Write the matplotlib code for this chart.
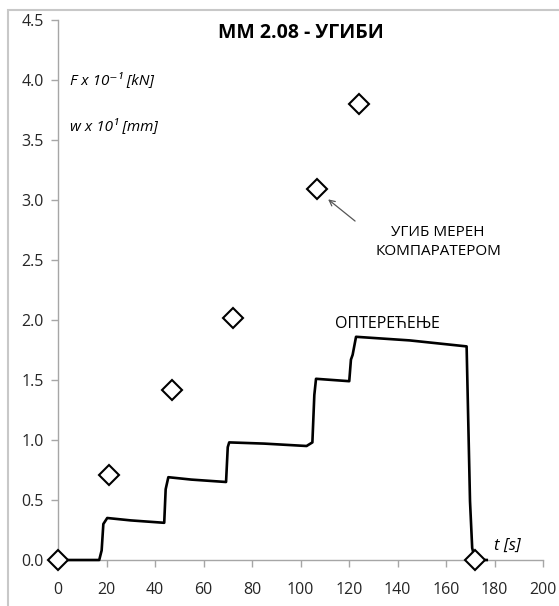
import matplotlib
matplotlib.use("Agg")
import matplotlib.pyplot as plt
from matplotlib.patches import Rectangle

plt.rcParams['font.family'] = ['Open Sans', 'DejaVu Sans']

# load curve (F x 10^-1 kN) over time
t_load = [0, 17.0, 18.0, 18.7, 20.3, 30, 43.8, 44.4, 45.5, 55, 69.3, 70.0, 70.6, 85,
          102.5, 104.9, 105.7, 106.4, 120.1, 120.8, 121.5, 122.9, 145, 168.5,
          169.9, 170.8, 172.0, 176.8]
f_load = [0, 0, 0.08, 0.30, 0.35, 0.33, 0.31, 0.59, 0.69, 0.67, 0.65, 0.94, 0.98, 0.97,
          0.95, 0.98, 1.375, 1.51, 1.49, 1.67, 1.71, 1.86, 1.83, 1.78,
          0.49, 0.10, 0.0, 0.0]

# deflection measured by comparator (w x 10 mm)
t_defl = [0, 21, 47, 72, 107, 124, 172]
w_defl = [0, 0.71, 1.42, 2.02, 3.09, 3.80, 0]

fig = plt.figure(figsize=(5.59, 6.06), dpi=100)
ax = fig.add_axes([58/559, 46/606, 485/559, 540/606])

# chart area frame
fig.patches.append(Rectangle((8/559, -0.05), 1.1, (596+30)/606, transform=fig.transFigure,
                             fill=False, edgecolor='#c8c8c8', linewidth=1.5))

ax.plot(t_load, f_load, color='black', lw=1.9, zorder=3, clip_on=False)
ax.plot(t_defl, w_defl, linestyle='none', marker='D', markersize=10, markerfacecolor='white',
        markeredgecolor='black', markeredgewidth=1.5, zorder=4, clip_on=False)

ax.set_xlim(0, 200)
ax.set_ylim(0, 4.5)
ax.set_xticks(range(0, 201, 20))
ax.set_yticks([i * 0.5 for i in range(10)])
ax.set_yticklabels(['%.1f' % (i * 0.5) for i in range(10)])

for s in ['top', 'right']:
    ax.spines[s].set_visible(False)
for s in ['left', 'bottom']:
    ax.spines[s].set_color('#a6a6a6')
    ax.spines[s].set_linewidth(1)
ax.tick_params(axis='both', colors='#a6a6a6', labelcolor='#262626', labelsize=11.5,
               length=5, width=1, direction='out')
ax.tick_params(axis='x', pad=11)
ax.tick_params(axis='y', pad=5)

ax.text(0.5, 0.975, 'ММ 2.08 - УГИБИ', transform=ax.transAxes, ha='center', va='center',
        fontsize=14, fontweight='bold', color='black')
ax.text(0.025, 0.888, 'F x 10⁻¹ [kN]', transform=ax.transAxes, ha='left', va='center',
        fontsize=11, style='italic')
ax.text(0.025, 0.803, 'w x 10¹ [mm]', transform=ax.transAxes, ha='left', va='center',
        fontsize=11, style='italic')
ax.text(185.5, 0.12, 't [s]', ha='center', va='center', fontsize=12, style='italic')
ax.text(135.7, 1.97, 'ОПТЕРЕЋЕЊЕ', ha='center', va='center', fontsize=11.5)
ax.text(156.7, 2.65, 'УГИБ МЕРЕН\nКОМПАРАТЕРОМ', ha='center', va='center', fontsize=11,
        linespacing=1.45)
ax.annotate('', xy=(110.5, 3.02), xytext=(123.4, 2.81),
            arrowprops=dict(arrowstyle='->', color='#555555', lw=0.9))

fig.savefig('out.png', dpi=100)
